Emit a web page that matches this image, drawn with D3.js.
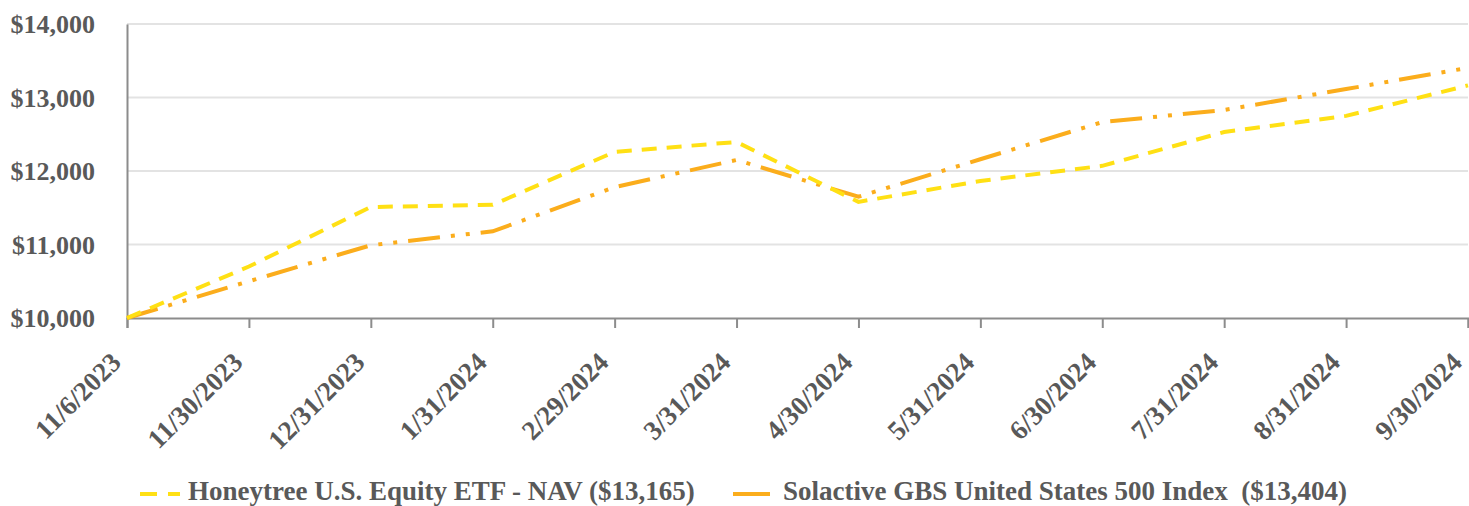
<!DOCTYPE html>
<html>
<head>
<meta charset="utf-8">
<script src="https://cdn.jsdelivr.net/npm/d3@7"></script>
<style>
  body { margin: 0; background: #fff; }
  text { font-family: "Liberation Serif", "Times New Roman", serif; font-weight: bold; fill: #595959; }
</style>
</head>
<body>
<svg width="1469" height="506"></svg>
<script>
const dates = ['11/6/2023', '11/30/2023', '12/31/2023', '1/31/2024', '2/29/2024', '3/31/2024',
  '4/30/2024', '5/31/2024', '6/30/2024', '7/31/2024', '8/31/2024', '9/30/2024'];
const fundValues = [10000, 10700, 11510, 11540, 12260, 12395, 11580, 11865, 12070, 12530, 12750, 13165];
const indexValues = [10000, 10500, 10990, 11180, 11780, 12150, 11650, 12160, 12665, 12830, 13115, 13404];
const yTicks = [10000, 11000, 12000, 13000, 14000];
const seriesNames = ['Honeytree U.S. Equity ETF - NAV ($13,165)', 'Solactive GBS United States 500 Index  ($13,404)'];

const svg = d3.select('svg');
const margin = { left: 127, right: 1, top: 24, bottom: 188 };
const width = 1469 - margin.left - margin.right;
const height = 506 - margin.top - margin.bottom;

const g = svg.append('g').attr('transform', `translate(${margin.left},${margin.top})`);

const x = d3.scalePoint().domain(dates).range([0, width]);
const y = d3.scaleLinear().domain([10000, 14000]).range([height, 0]);

// gridlines
g.selectAll('.grid')
  .data(yTicks.slice(1))
  .enter()
  .append('line')
  .attr('x1', 0)
  .attr('x2', width)
  .attr('y1', d => y(d))
  .attr('y2', d => y(d))
  .attr('stroke', '#e3e3e3')
  .attr('stroke-width', 2);

// y axis
const yAxis = g.append('g')
  .call(d3.axisLeft(y).tickValues(yTicks).tickSize(0).tickPadding(32).tickFormat(d => '$' + d3.format(',')(d)));
yAxis.select('.domain').attr('stroke', '#8c8c8c').attr('stroke-width', 2);
yAxis.selectAll('text').attr('font-size', 26).attr('dy', '0.33em');

// x axis
const xAxis = g.append('g')
  .attr('transform', `translate(0,${height})`)
  .call(d3.axisBottom(x).tickSize(10));
xAxis.select('.domain').attr('stroke', '#8c8c8c').attr('stroke-width', 2);
xAxis.selectAll('.tick line').attr('stroke', '#8c8c8c').attr('stroke-width', 2);
xAxis.selectAll('text')
  .attr('font-size', 27)
  .attr('text-anchor', 'end')
  .attr('x', 0)
  .attr('y', 0)
  .attr('dy', 0)
  .attr('transform', 'translate(-5,46) rotate(-45)');

const line = d3.line()
  .x((d, i) => x(dates[i]))
  .y(d => y(d));

g.append('path')
  .datum(indexValues)
  .attr('fill', 'none')
  .attr('stroke', '#FBAD1C')
  .attr('stroke-width', 4)
  .attr('stroke-dasharray', '32,11,4,11,4,11')
  .attr('d', line);

g.append('path')
  .datum(fundValues)
  .attr('fill', 'none')
  .attr('stroke', '#FFE014')
  .attr('stroke-width', 4)
  .attr('stroke-dasharray', '15,10')
  .attr('d', line);

// legend
const legend = svg.append('g');
legend.append('line')
  .attr('x1', 140).attr('x2', 180).attr('y1', 494).attr('y2', 494)
  .attr('stroke', '#FFE014').attr('stroke-width', 4).attr('stroke-dasharray', '17,11');
legend.append('text').attr('x', 188).attr('y', 500)
  .attr('font-size', 27).text(seriesNames[0]);
legend.append('line')
  .attr('x1', 733).attr('x2', 770).attr('y1', 494).attr('y2', 494)
  .attr('stroke', '#FBAD1C').attr('stroke-width', 4);
legend.append('text').attr('x', 783).attr('y', 500)
  .attr('font-size', 27).style('white-space', 'pre').text(seriesNames[1]);
</script>
</body>
</html>
